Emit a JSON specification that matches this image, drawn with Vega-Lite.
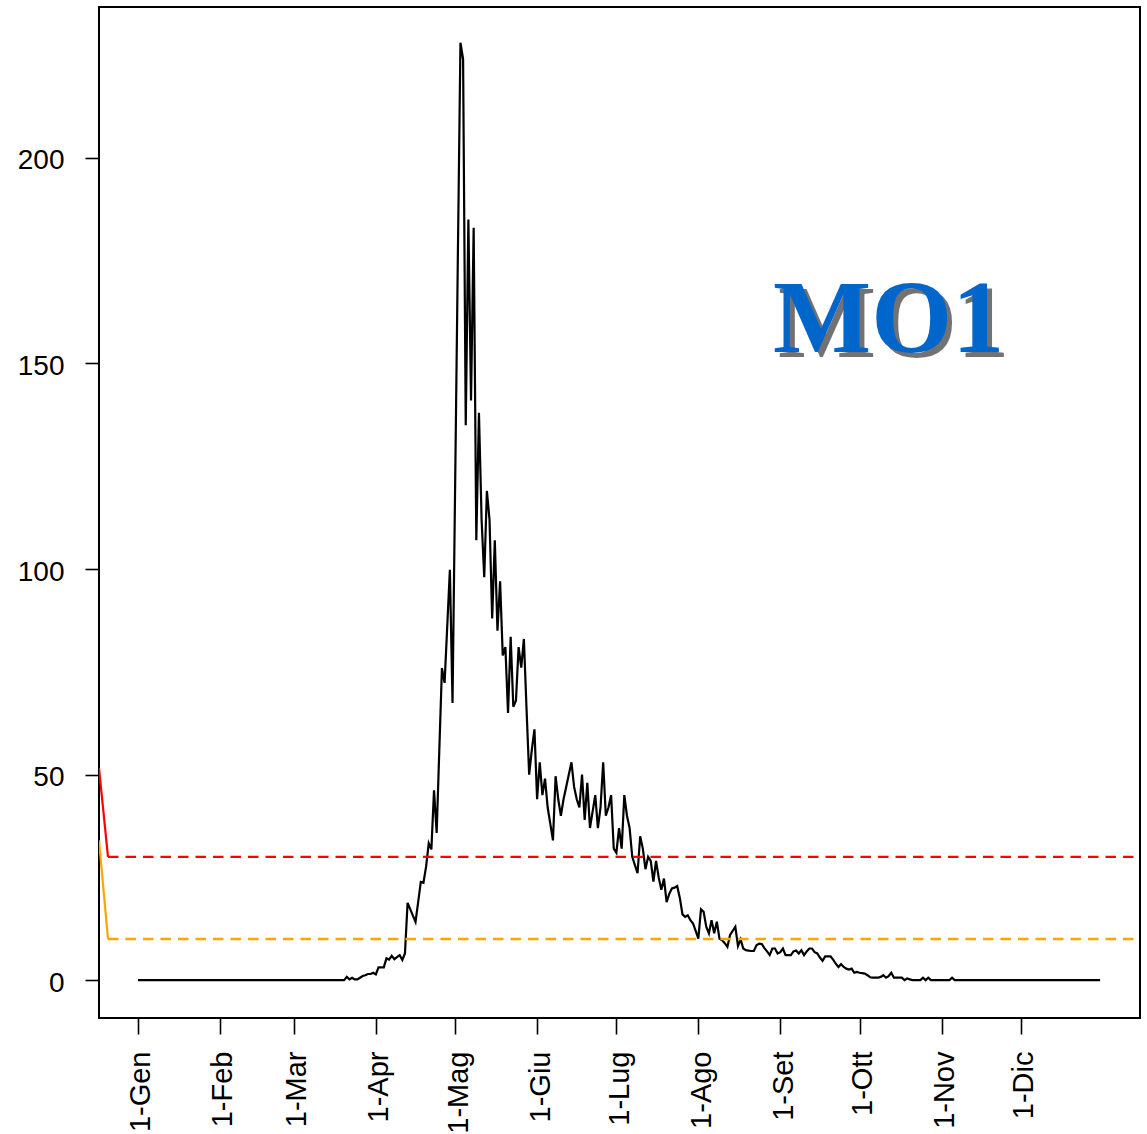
{
  "$schema": "https://vega.github.io/schema/vega-lite/v6.json",
  "width": 1041,
  "height": 1011,
  "autosize": {"type": "none"},
  "padding": {"left": 99, "top": 7, "right": 7, "bottom": 116},
  "background": "white",
  "config": {
    "view": {"stroke": "black", "strokeWidth": 2},
    "axis": {
      "grid": false,
      "domain": false,
      "tickColor": "black",
      "tickWidth": 1.6,
      "labelColor": "black",
      "labelFont": "Liberation Sans",
      "labelFontSize": 28,
      "title": null,
      "labelOverlap": false,
      "labelFlush": false
    }
  },
  "datasets": {
    "series": [
      {"d":0,"v":0},{"d":1,"v":0},{"d":2,"v":0},{"d":3,"v":0},{"d":4,"v":0},{"d":5,"v":0},{"d":6,"v":0},{"d":7,"v":0},{"d":8,"v":0},{"d":9,"v":0},
      {"d":10,"v":0},{"d":11,"v":0},{"d":12,"v":0},{"d":13,"v":0},{"d":14,"v":0},{"d":15,"v":0},{"d":16,"v":0},{"d":17,"v":0},{"d":18,"v":0},{"d":19,"v":0},
      {"d":20,"v":0},{"d":21,"v":0},{"d":22,"v":0},{"d":23,"v":0},{"d":24,"v":0},{"d":25,"v":0},{"d":26,"v":0},{"d":27,"v":0},{"d":28,"v":0},{"d":29,"v":0},
      {"d":30,"v":0},{"d":31,"v":0},{"d":32,"v":0},{"d":33,"v":0},{"d":34,"v":0},{"d":35,"v":0},{"d":36,"v":0},{"d":37,"v":0},{"d":38,"v":0},{"d":39,"v":0},
      {"d":40,"v":0},{"d":41,"v":0},{"d":42,"v":0},{"d":43,"v":0},{"d":44,"v":0},{"d":45,"v":0},{"d":46,"v":0},{"d":47,"v":0},{"d":48,"v":0},{"d":49,"v":0},
      {"d":50,"v":0},{"d":51,"v":0},{"d":52,"v":0},{"d":53,"v":0},{"d":54,"v":0},{"d":55,"v":0},{"d":56,"v":0},{"d":57,"v":0},{"d":58,"v":0},{"d":59,"v":0},
      {"d":60,"v":0},{"d":61,"v":0},{"d":62,"v":0},{"d":63,"v":0},{"d":64,"v":0},{"d":65,"v":0},{"d":66,"v":0},{"d":67,"v":0},{"d":68,"v":0},{"d":69,"v":0},
      {"d":70,"v":0},{"d":71,"v":0},{"d":72,"v":0},{"d":73,"v":0},{"d":74,"v":0},{"d":75,"v":0},{"d":76,"v":0},{"d":77,"v":0},{"d":78,"v":0},{"d":79,"v":0.8},
      {"d":80,"v":0.2},{"d":81,"v":0.6},{"d":82,"v":0.2},{"d":83,"v":0.2},{"d":84,"v":0.6},{"d":85,"v":1.0},{"d":86,"v":1.2},{"d":87,"v":1.5},{"d":88,"v":1.5},{"d":89,"v":1.8},
      {"d":90,"v":1.4},{"d":91,"v":3.1},{"d":92,"v":3.1},{"d":93,"v":3.1},{"d":94,"v":5.3},{"d":95,"v":5.0},{"d":96,"v":5.9},{"d":97,"v":5.1},{"d":98,"v":5.6},{"d":99,"v":6.1},
      {"d":100,"v":4.9},{"d":101,"v":6.5},{"d":102,"v":18.8},{"d":103,"v":17.3},{"d":104,"v":15.7},{"d":105,"v":14.2},{"d":106,"v":19},{"d":107,"v":23.9},{"d":108,"v":23.7},{"d":109,"v":27.6},
      {"d":110,"v":33.3},{"d":111,"v":31.8},{"d":112,"v":46.2},{"d":113,"v":35.8},{"d":114,"v":56},{"d":115,"v":75.9},{"d":116,"v":72.3},{"d":117,"v":86},{"d":118,"v":99.8},{"d":119,"v":67.4},
      {"d":120,"v":121},{"d":121,"v":175},{"d":122,"v":228},{"d":123,"v":224},{"d":124,"v":135},{"d":125,"v":185},{"d":126,"v":141},{"d":127,"v":183},{"d":128,"v":107},{"d":129,"v":138},
      {"d":130,"v":112},{"d":131,"v":98},{"d":132,"v":119},{"d":133,"v":112},{"d":134,"v":88},{"d":135,"v":107},{"d":136,"v":85},{"d":137,"v":97},{"d":138,"v":79},{"d":139,"v":81},
      {"d":140,"v":65},{"d":141,"v":83.5},{"d":142,"v":66.5},{"d":143,"v":68},{"d":144,"v":81},{"d":145,"v":76},{"d":146,"v":83},{"d":147,"v":66},{"d":148,"v":50},{"d":149,"v":56},
      {"d":150,"v":61},{"d":151,"v":44},{"d":152,"v":53},{"d":153,"v":45},{"d":154,"v":49},{"d":155,"v":42},{"d":156,"v":38},{"d":157,"v":34},{"d":158,"v":49.6},{"d":159,"v":44},
      {"d":160,"v":40},{"d":161,"v":44},{"d":162,"v":47},{"d":163,"v":50},{"d":164,"v":53},{"d":165,"v":47},{"d":166,"v":44},{"d":167,"v":42},{"d":168,"v":50},{"d":169,"v":39},
      {"d":170,"v":48},{"d":171,"v":37},{"d":172,"v":41},{"d":173,"v":45},{"d":174,"v":37},{"d":175,"v":42},{"d":176,"v":53},{"d":177,"v":40},{"d":178,"v":42},{"d":179,"v":45},
      {"d":180,"v":32},{"d":181,"v":31},{"d":182,"v":37},{"d":183,"v":32},{"d":184,"v":45},{"d":185,"v":40},{"d":186,"v":37},{"d":187,"v":30},{"d":188,"v":28},{"d":189,"v":26},
      {"d":190,"v":35},{"d":191,"v":32},{"d":192,"v":27},{"d":193,"v":30},{"d":194,"v":29},{"d":195,"v":24},{"d":196,"v":29},{"d":197,"v":25},{"d":198,"v":22},{"d":199,"v":24.7},
      {"d":200,"v":19},{"d":201,"v":21},{"d":202,"v":22.3},{"d":203,"v":22.5},{"d":204,"v":22.9},{"d":205,"v":20},{"d":206,"v":16},{"d":207,"v":15.4},{"d":208,"v":15.8},{"d":209,"v":14.6},
      {"d":210,"v":13.8},{"d":211,"v":12},{"d":212,"v":10.1},{"d":213,"v":17.2},{"d":214,"v":16.6},{"d":215,"v":13},{"d":216,"v":11.4},{"d":217,"v":14.6},{"d":218,"v":11.4},{"d":219,"v":14.2},
      {"d":220,"v":10.1},{"d":221,"v":9.7},{"d":222,"v":9},{"d":223,"v":8.1},{"d":224,"v":11},{"d":225,"v":12},{"d":226,"v":13},{"d":227,"v":8.3},{"d":228,"v":9.9},{"d":229,"v":7.7},
      {"d":230,"v":7.3},{"d":231,"v":7.2},{"d":232,"v":7.1},{"d":233,"v":7.1},{"d":234,"v":8.5},{"d":235,"v":8.9},{"d":236,"v":8.8},{"d":237,"v":7.8},{"d":238,"v":7.0},{"d":239,"v":6.1},
      {"d":240,"v":7.7},{"d":241,"v":7.7},{"d":242,"v":6.5},{"d":243,"v":6.8},{"d":244,"v":7.7},{"d":245,"v":6.1},{"d":246,"v":6.1},{"d":247,"v":6.1},{"d":248,"v":7},{"d":249,"v":7.2},
      {"d":250,"v":6.5},{"d":251,"v":7.3},{"d":252,"v":6.1},{"d":253,"v":7},{"d":254,"v":7.7},{"d":255,"v":7.7},{"d":256,"v":6.8},{"d":257,"v":6.5},{"d":258,"v":5.5},{"d":259,"v":4.7},
      {"d":260,"v":5.8},{"d":261,"v":5.8},{"d":262,"v":5.8},{"d":263,"v":5},{"d":264,"v":4},{"d":265,"v":3.2},{"d":266,"v":3.9},{"d":267,"v":3.2},{"d":268,"v":2.8},{"d":269,"v":2.6},
      {"d":270,"v":2.8},{"d":271,"v":1.8},{"d":272,"v":2.0},{"d":273,"v":1.8},{"d":274,"v":1.7},{"d":275,"v":1.6},{"d":276,"v":1.2},{"d":277,"v":0.7},{"d":278,"v":0.6},{"d":279,"v":0.6},
      {"d":280,"v":0.6},{"d":281,"v":0.8},{"d":282,"v":1.2},{"d":283,"v":0.6},{"d":284,"v":1.0},{"d":285,"v":1.8},{"d":286,"v":0.6},{"d":287,"v":0.6},{"d":288,"v":0.6},{"d":289,"v":0.6},
      {"d":290,"v":0},{"d":291,"v":0.4},{"d":292,"v":0.2},{"d":293,"v":0},{"d":294,"v":0},{"d":295,"v":0},{"d":296,"v":0},{"d":297,"v":0.6},{"d":298,"v":0},{"d":299,"v":0.6},
      {"d":300,"v":0},{"d":301,"v":0},{"d":302,"v":0},{"d":303,"v":0},{"d":304,"v":0},{"d":305,"v":0},{"d":306,"v":0},{"d":307,"v":0},{"d":308,"v":0.6},{"d":309,"v":0},
      {"d":310,"v":0},{"d":311,"v":0},{"d":312,"v":0},{"d":313,"v":0},{"d":314,"v":0},{"d":315,"v":0},{"d":316,"v":0},{"d":317,"v":0},{"d":318,"v":0},{"d":319,"v":0},
      {"d":320,"v":0},{"d":321,"v":0},{"d":322,"v":0},{"d":323,"v":0},{"d":324,"v":0},{"d":325,"v":0},{"d":326,"v":0},{"d":327,"v":0},{"d":328,"v":0},{"d":329,"v":0},
      {"d":330,"v":0},{"d":331,"v":0},{"d":332,"v":0},{"d":333,"v":0},{"d":334,"v":0},{"d":335,"v":0},{"d":336,"v":0},{"d":337,"v":0},{"d":338,"v":0},{"d":339,"v":0},
      {"d":340,"v":0},{"d":341,"v":0},{"d":342,"v":0},{"d":343,"v":0},{"d":344,"v":0},{"d":345,"v":0},{"d":346,"v":0},{"d":347,"v":0},{"d":348,"v":0},{"d":349,"v":0},
      {"d":350,"v":0},{"d":351,"v":0},{"d":352,"v":0},{"d":353,"v":0},{"d":354,"v":0},{"d":355,"v":0},{"d":356,"v":0},{"d":357,"v":0},{"d":358,"v":0},{"d":359,"v":0},
      {"d":360,"v":0},{"d":361,"v":0},{"d":362,"v":0},{"d":363,"v":0},{"d":364,"v":0}
    ],
    "redSolid": [{"d": -14.75, "v": 51.6}, {"d": -11.35, "v": 30}],
    "redDash": [{"d": -11.35, "v": 30}, {"d": 380, "v": 30}],
    "orangeSolid": [{"d": -14.75, "v": 34}, {"d": -11.35, "v": 10}],
    "orangeDash": [{"d": -11.35, "v": 10}, {"d": 380, "v": 10}],
    "label": [{"d": 284, "v": 152.8, "t": "MO1"}]
  },
  "layer": [
    {
      "data": {"name": "series"},
      "mark": {"type": "line", "color": "black", "strokeWidth": 2.2, "clip": true},
      "encoding": {
        "x": {
          "field": "d", "type": "quantitative",
          "scale": {"domain": [-14.75, 379.1], "nice": false, "zero": false},
          "axis": {
            "values": [0, 31, 59, 90, 120, 151, 181, 212, 243, 273, 304, 334],
            "labelExpr": "['1-Gen','1-Feb','1-Mar','1-Apr','1-Mag','1-Giu','1-Lug','1-Ago','1-Set','1-Ott','1-Nov','1-Dic'][indexof([0,31,59,90,120,151,181,212,243,273,304,334], datum.value)]",
            "labelAngle": -90,
            "labelFontSize": 29,
            "labelOffset": 3,
            "tickSize": 16,
            "labelPadding": 17
          }
        },
        "y": {
          "field": "v", "type": "quantitative",
          "scale": {"domain": [-9.2, 236.7], "nice": false, "zero": false},
          "axis": {"values": [0, 50, 100, 150, 200], "tickSize": 14, "labelPadding": 21, "labelOffset": 3}
        }
      }
    },
    {
      "data": {"name": "redSolid"},
      "mark": {"type": "line", "color": "#FF0000", "strokeWidth": 2.2, "clip": true},
      "encoding": {"x": {"field": "d", "type": "quantitative"}, "y": {"field": "v", "type": "quantitative"}}
    },
    {
      "data": {"name": "redDash"},
      "mark": {"type": "line", "color": "#FF0000", "strokeWidth": 2.4, "strokeDash": [10.5, 7], "clip": true},
      "encoding": {"x": {"field": "d", "type": "quantitative"}, "y": {"field": "v", "type": "quantitative"}}
    },
    {
      "data": {"name": "orangeSolid"},
      "mark": {"type": "line", "color": "#FFA500", "strokeWidth": 2.2, "clip": true},
      "encoding": {"x": {"field": "d", "type": "quantitative"}, "y": {"field": "v", "type": "quantitative"}}
    },
    {
      "data": {"name": "orangeDash"},
      "mark": {"type": "line", "color": "#FFA500", "strokeWidth": 2.4, "strokeDash": [10.5, 7], "clip": true},
      "encoding": {"x": {"field": "d", "type": "quantitative"}, "y": {"field": "v", "type": "quantitative"}}
    },
    {
      "data": {"name": "label"},
      "mark": {"type": "text", "font": "Liberation Serif", "fontWeight": "bold", "fontSize": 104, "fill": "#000000", "opacity": 0.55, "dx": 5, "dy": 5, "align": "center", "baseline": "alphabetic"},
      "encoding": {"x": {"field": "d", "type": "quantitative"}, "y": {"field": "v", "type": "quantitative"}, "text": {"field": "t"}}
    },
    {
      "data": {"name": "label"},
      "mark": {"type": "text", "font": "Liberation Serif", "fontWeight": "bold", "fontSize": 104, "fill": "#0066CC", "align": "center", "baseline": "alphabetic"},
      "encoding": {"x": {"field": "d", "type": "quantitative"}, "y": {"field": "v", "type": "quantitative"}, "text": {"field": "t"}}
    }
  ]
}
